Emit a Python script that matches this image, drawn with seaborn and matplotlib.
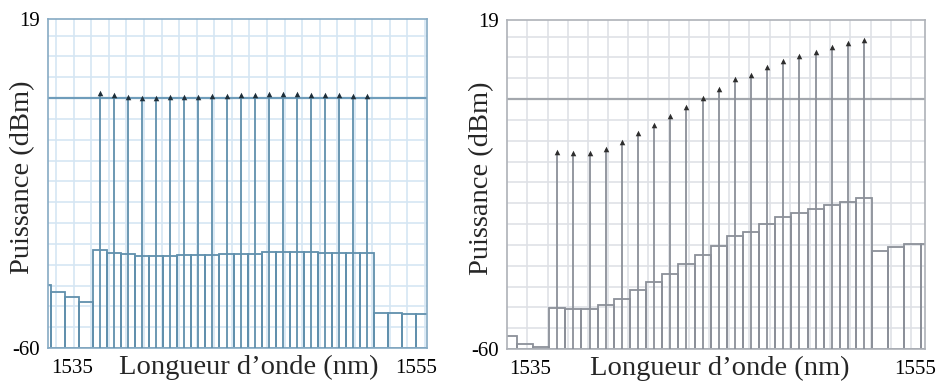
import matplotlib
matplotlib.use("Agg")
import numpy as np
import pandas as pd
import matplotlib.pyplot as plt
import seaborn as sns

# ---------------- data ----------------
channel_nm = [1536.6, 1537.4, 1538.2, 1539.0, 1539.8, 1540.6, 1541.4, 1542.2, 1543.0, 1543.8,
              1544.6, 1545.4, 1546.2, 1547.0, 1547.8, 1548.6, 1549.4, 1550.2, 1551.0, 1551.8]

left_signal_dbm = [1.3, 0.75, 0.2, 0.1, -0.05, 0.2, 0.2, 0.27, 0.5, 0.6,
                   0.75, 0.83, 1.0, 0.9, 0.9, 0.83, 0.75, 0.75, 0.6, 0.5]
right_signal_dbm = [-12.6, -13.0, -12.9, -12.0, -10.2, -8.2, -6.3, -4.05, -1.9, 0.2,
                    2.5, 4.75, 5.9, 7.8, 9.2, 10.4, 11.4, 12.4, 13.4, 14.2]

left_pre_nm = [1533.4, 1534.2, 1535.0, 1535.8]
left_pre_dbm = [-44.9, -46.5, -47.8, -48.9]
left_chan_noise_dbm = [-36.5, -37.3, -37.5, -37.9, -37.9, -37.9, -37.7, -37.7, -37.7, -37.35,
                       -37.35, -37.35, -37.0, -37.0, -37.0, -37.0, -37.3, -37.3, -37.3, -37.3]
left_post_nm = [1552.6, 1553.4, 1554.2, 1555.0]
left_post_dbm = [-51.5, -51.7, -51.8, -51.8]

right_pre_nm = [1534.2, 1535.0, 1535.8]
right_pre_dbm = [-56.9, -58.8, -59.4]
right_chan_noise_dbm = [-50.1, -50.4, -50.4, -49.5, -47.9, -45.9, -44.0, -42.0, -39.7, -37.5,
                        -35.2, -32.9, -31.8, -30.1, -28.4, -27.4, -26.5, -25.4, -24.6, -23.8]
right_post_nm = [1552.6, 1553.4, 1554.2, 1555.0]
right_post_dbm = [-36.4, -35.6, -34.8, -34.8]

y_tick_values = [-60, 19]
y_tick_labels = ["-60", "19"]
x_tick_labels = ["1535", "1555"]
ylabel_text = "Puissance (dBm)"
xlabel_text = "Longueur d\u2019onde (nm)"

# ---------------- style ----------------
sns.set_theme(style="white")
plt.rcParams["font.family"] = ["Liberation Serif", "DejaVu Serif"]

Y_MIN, Y_MAX = -60, 19
BIN_W = 0.8

fig = plt.figure(figsize=(9.4, 3.87), dpi=100)
axL = fig.add_axes([48 / 940, 39 / 387, 379 / 940, 329 / 387])
axR = fig.add_axes([507 / 940, 38 / 387, 418 / 940, 329 / 387])

panels = [
    dict(ax=axL, sig=left_signal_dbm,
         bins=left_pre_nm + channel_nm + left_post_nm,
         noise=left_pre_dbm + left_chan_noise_dbm + left_post_dbm,
         xlim=(1533.64, 1555.21), xgrid0=1534.10, xticks=[1535.0, 1554.6],
         line="#6090ad", grid="#d5e6f3", zero="#6f9dbb", spine="#86aac3",
         marker="#1f2f3a", xl=0.53, yl_x=-0.035),
    dict(ax=axR, sig=right_signal_dbm,
         bins=right_pre_nm + channel_nm + right_post_nm,
         noise=right_pre_dbm + right_chan_noise_dbm + right_post_dbm,
         xlim=(1534.11, 1554.82), xgrid0=1535.12, xticks=[1535.25, 1554.33],
         line="#8b9099", grid="#dfe1e6", zero="#a3a7ad", spine="#aeb2b8",
         marker="#2e2e2e", xl=0.51, yl_x=-0.03),
]

for p in panels:
    ax = p["ax"]
    ax.set_xlim(*p["xlim"])
    ax.set_ylim(Y_MIN, Y_MAX)

    # grid
    ax.set_xticks(np.arange(p["xgrid0"], p["xlim"][1], 1.0), minor=True)
    ax.set_yticks(np.arange(-55, 16, 5), minor=True)
    ax.grid(False, which="major")
    ax.grid(True, which="minor", color=p["grid"], linewidth=1.2)
    ax.set_axisbelow(True)
    ax.axhline(0, color=p["zero"], linewidth=1.6, zorder=1)

    # noise bins (open bars from floor)
    heights = [v - Y_MIN for v in p["noise"]]
    ax.bar(p["bins"], heights, width=BIN_W, bottom=Y_MIN, fill=False,
           edgecolor=p["line"], linewidth=1.3, zorder=2, clip_on=True)

    # channel arrows
    ax.vlines(channel_nm, Y_MIN, p["sig"], color=p["line"], linewidth=1.3, zorder=3)
    df = pd.DataFrame({"nm": channel_nm, "dbm": p["sig"]})
    sns.scatterplot(data=df, x="nm", y="dbm", ax=ax, marker="^", s=16,
                    color=p["marker"], edgecolor=p["marker"], linewidth=0, zorder=4)

    # ticks & labels
    ax.set_xticks(p["xticks"])
    ax.set_xticklabels(x_tick_labels, fontsize=15)
    ax.set_yticks(y_tick_values)
    ax.set_yticklabels(y_tick_labels, fontsize=15)
    ax.tick_params(which="both", length=0, pad=6, colors="black")
    ax.tick_params(axis="x", pad=8)

    ax.set_xlabel(xlabel_text, fontsize=20.5)
    ax.set_ylabel(ylabel_text, fontsize=20.5)
    ax.xaxis.set_label_coords(p["xl"], -0.02)
    ax.xaxis.label.set_verticalalignment("top")
    ax.yaxis.set_label_coords(p["yl_x"], 0.52)

    for s in ax.spines.values():
        s.set_color(p["spine"])
        s.set_linewidth(1.2)
        s.set_visible(True)

fig.savefig("out.png", dpi=100, facecolor="white")
